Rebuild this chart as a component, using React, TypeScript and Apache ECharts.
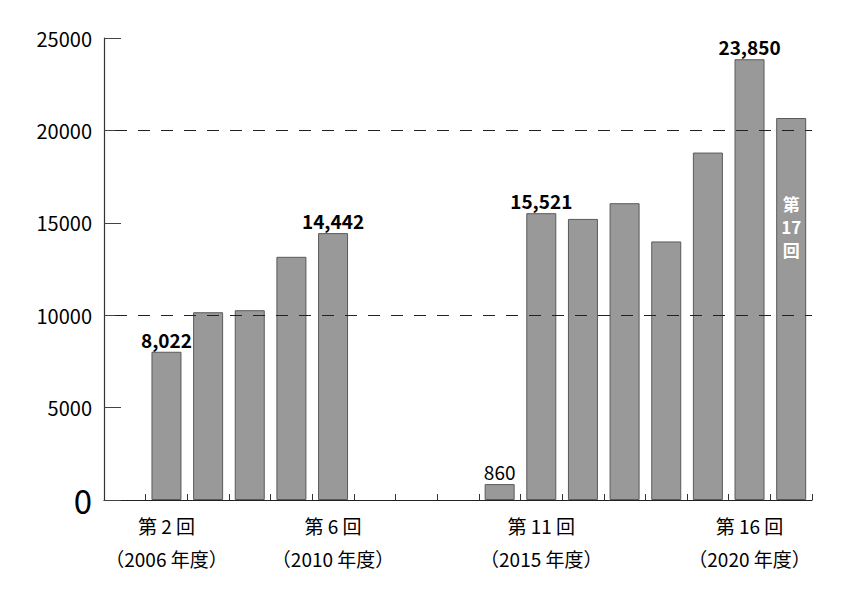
import React, { useEffect, useRef } from "react";
import * as echarts from "echarts";

const categories = [
  "第1回", "第2回", "第3回", "第4回", "第5回", "第6回", "第7回", "第8回", "第9回",
  "第10回", "第11回", "第12回", "第13回", "第14回", "第15回", "第16回", "第17回",
];
const values: (number | null)[] = [
  null, 8022, 10160, 10270, 13160, 14442, null, null, null,
  860, 15521, 15210, 16060, 13990, 18800, 23850, 20670,
];
const tickLabels = [
  "", "第 2 回\n（2006 年度）", "", "", "", "第 6 回\n（2010 年度）", "", "", "", "",
  "第 11 回\n（2015 年度）", "", "", "", "", "第 16 回\n（2020 年度）", "",
];
const valueLabels = [
  "", "8,022", "", "", "", "14,442", "", "", "", "860", "15,521", "", "", "", "", "23,850", "第\n17\n回",
];
const boldLabels = [1, 5, 10, 15];
const insideLabels = [16];
const gridLines = [10000, 20000];

const FONT = '"Noto Sans CJK JP", "Noto Sans", sans-serif';

export default function App() {
  const ref = useRef<HTMLDivElement>(null);
  useEffect(() => {
    if (!ref.current) return;
    const chart = echarts.init(ref.current, undefined, { renderer: "svg" });
    const data = values.map((v, i) => {
      if (v === null) return "-";
      const txt = valueLabels[i];
      if (!txt) return { value: v, label: { show: false } };
      if (insideLabels.includes(i)) {
        return {
          value: v,
          label: {
            show: true,
            position: "insideTop",
            distance: 74,
            formatter: txt,
            color: "#ffffff",
            fontSize: 17,
            fontWeight: "bold",
            lineHeight: 23,
            fontFamily: FONT,
          },
        };
      }
      return {
        value: v,
        label: {
          show: true,
          position: "top",
          distance: 3,
          formatter: txt,
          color: "#000",
          fontSize: 19,
          fontWeight: boldLabels.includes(i) ? "bold" : "normal",
          fontFamily: FONT,
        },
      };
    });
    chart.setOption({
      animation: false,
      backgroundColor: "#ffffff",
      textStyle: { fontFamily: FONT },
      grid: { left: 104, right: 39, top: 38, bottom: 101, containLabel: false },
      xAxis: {
        type: "category",
        data: categories,
        boundaryGap: true,
        axisLine: { show: true, lineStyle: { color: "#222", width: 1.2 } },
        axisTick: { show: true, inside: true, length: 6, interval: 0, lineStyle: { color: "#333" } },
        axisLabel: {
          interval: 0,
          margin: 9,
          fontSize: 19,
          lineHeight: 33,
          color: "#000",
          fontFamily: FONT,
          formatter: (_v: string, i: number) => tickLabels[i],
        },
        splitLine: { show: false },
      },
      yAxis: {
        type: "value",
        min: 0,
        max: 25000,
        interval: 5000,
        axisLine: { show: true, lineStyle: { color: "#333", width: 1.2 } },
        axisTick: { show: true, inside: true, length: 17, lineStyle: { color: "#444" } },
        splitLine: { show: false },
        axisLabel: {
          margin: 12,
          fontSize: 20,
          color: "#000",
          fontFamily: FONT,
          formatter: (v: number) => (v === 0 ? "{big|0}" : String(v)),
          rich: { big: { fontSize: 33, color: "#000", fontFamily: FONT } },
        },
      },
      series: [
        {
          type: "bar",
          data,
          barWidth: 30,
          itemStyle: { color: "#999999", borderColor: "#5a5a5a", borderWidth: 1 },
          markLine: {
            silent: true,
            symbol: "none",
            label: { show: false },
            lineStyle: { color: "#222", width: 1, type: [12, 11], dashOffset: 12 },
            data: gridLines.map((y) => ({ yAxis: y })),
          },
        },
      ],
    });
    return () => chart.dispose();
  }, []);
  return (
    <div
      ref={ref}
      style={{ width: 851, height: 601, position: "fixed", left: 0, top: 0, background: "#fff" }}
    />
  );
}
